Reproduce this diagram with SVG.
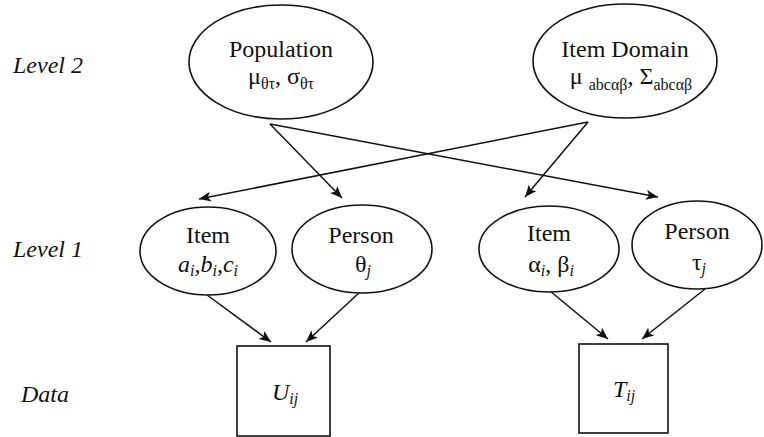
<svg xmlns="http://www.w3.org/2000/svg" width="764" height="437" viewBox="0 0 764 437" font-family="'Liberation Serif', 'Times New Roman', Times, 'DejaVu Serif', serif">
<style>
text{font-family:'Liberation Serif','Times New Roman',Times,'DejaVu Serif',serif;font-size:24px;fill:#111;text-anchor:middle}
.lvl{font-style:italic;text-anchor:start}
.it{font-style:italic}
.sub{font-size:16px}
.node{fill:#fff;stroke:#111;stroke-width:1.6}
.edge{stroke:#111;stroke-width:1.5;fill:none;marker-end:url(#ah)}
</style>
<defs>
<marker id="ah" markerUnits="userSpaceOnUse" markerWidth="14" markerHeight="12" refX="12" refY="5" orient="auto">
<path d="M0,0 L12,5 L0,10 L3,5 Z" fill="#111"/>
</marker>
</defs>
<rect width="764" height="437" fill="#fff"/>
<g id="labels">
<text class="lvl" x="13" y="73">Level 2</text>
<text class="lvl" x="13" y="257">Level 1</text>
<text class="lvl" x="21" y="402">Data</text>
</g>
<g id="connectors">
<line class="edge" x1="270" y1="124" x2="342" y2="198"/>
<line class="edge" x1="270" y1="124" x2="658" y2="197"/>
<line class="edge" x1="588" y1="122" x2="199" y2="199"/>
<line class="edge" x1="588" y1="122" x2="525" y2="197"/>
<line class="edge" x1="207" y1="295" x2="271" y2="342"/>
<line class="edge" x1="360" y1="292" x2="306" y2="342"/>
<line class="edge" x1="550" y1="291" x2="608" y2="339"/>
<line class="edge" x1="705" y1="289" x2="642" y2="339"/>
</g>
<g id="population">
<ellipse class="node" cx="281" cy="62" rx="92" ry="57"/>
<text x="281" y="57">Population</text>
<text x="281" y="84">μ<tspan class="sub" dy="5">θτ</tspan><tspan dy="-5">, σ</tspan><tspan class="sub" dy="5">θτ</tspan></text>
</g>
<g id="itemdomain">
<ellipse class="node" cx="625" cy="61" rx="92" ry="57"/>
<text x="625" y="57">Item Domain</text>
<text x="631" y="84">μ <tspan class="sub" dy="6">abcαβ</tspan><tspan dy="-6">, Σ</tspan><tspan class="sub" dy="6">abcαβ</tspan></text>
</g>
<g id="item1">
<ellipse class="node" cx="208" cy="251" rx="68" ry="44"/>
<text x="208" y="243">Item</text>
<text x="208" y="272" class="it">a<tspan class="sub" dy="4">i</tspan><tspan dy="-4">,b</tspan><tspan class="sub" dy="4">i</tspan><tspan dy="-4">,c</tspan><tspan class="sub" dy="4">i</tspan></text>
</g>
<g id="person1">
<ellipse class="node" cx="362" cy="249" rx="70" ry="44"/>
<text x="361" y="243">Person</text>
<text x="363" y="272">θ<tspan class="sub it" dy="4">j</tspan></text>
</g>
<g id="item2">
<ellipse class="node" cx="549" cy="249" rx="70" ry="43"/>
<text x="549" y="241">Item</text>
<text x="551" y="272">α<tspan class="sub it" dy="4">i</tspan><tspan dy="-4">, β</tspan><tspan class="sub it" dy="4">i</tspan></text>
</g>
<g id="person2">
<ellipse class="node" cx="697" cy="245" rx="65" ry="44"/>
<text x="697" y="239">Person</text>
<text x="699" y="270">τ<tspan class="sub it" dy="4">j</tspan></text>
</g>
<g id="U">
<rect class="node" x="237" y="346" width="93" height="90"/>
<text x="285" y="400" class="it">U<tspan class="sub" dy="4">ij</tspan></text>
</g>
<g id="T">
<rect class="node" x="579" y="344" width="89" height="89"/>
<text x="624" y="397" class="it">T<tspan class="sub" dy="4">ij</tspan></text>
</g>
</svg>
